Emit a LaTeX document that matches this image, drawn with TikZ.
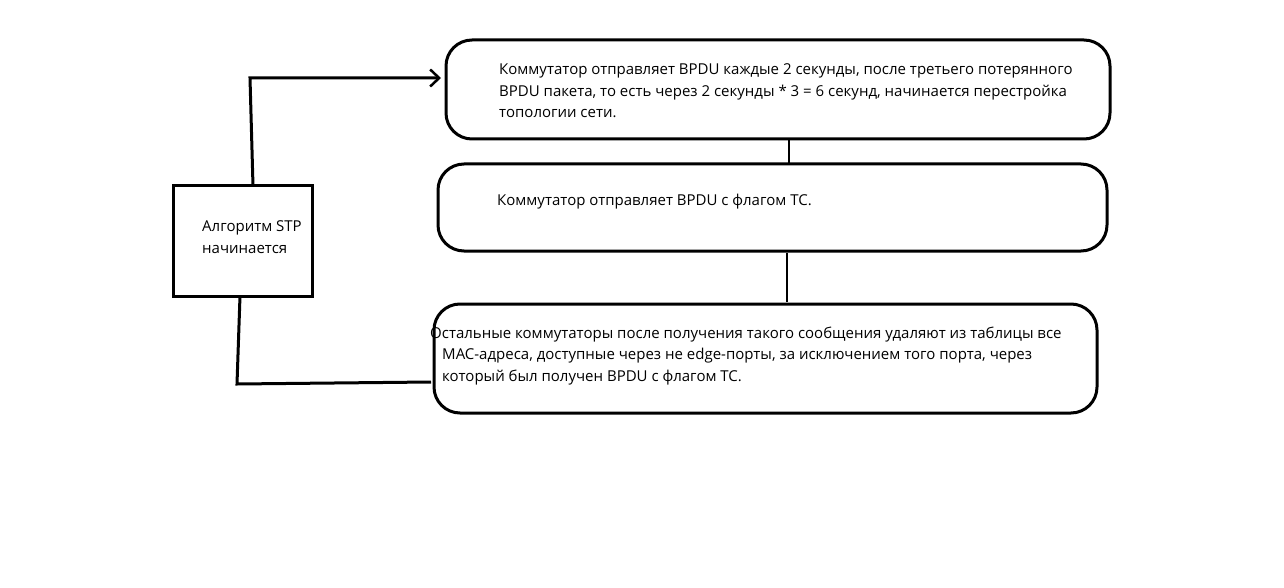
\documentclass[tikz,border=0pt]{standalone}
\usepackage{fontspec}
\setmainfont{Open Sans}
\usetikzlibrary{arrows.meta}
\begin{document}
\begin{tikzpicture}[x=1pt,y=-1pt,
  rbox/.style={draw,line width=3pt,rounded corners=26pt},
  sbox/.style={draw,line width=3pt},
  lbl/.style={anchor=base west,inner sep=0pt,font=\fontsize{15}{21.5}\selectfont,align=left},
  conn/.style={line width=3pt},
  thin conn/.style={line width=2.2pt}]
\useasboundingbox (0,0) rectangle (1284,588);
% boxes
\draw[sbox] (173,186) rectangle (312,296);
\coordinate (aN) at (253,186);
\coordinate (aS) at (240,296);
\draw[rbox] (446,40) rectangle (1110,139);
\coordinate (b1S) at (789,139);
\coordinate (b1W) at (441,78);
\draw[rbox] (438,164) rectangle (1107,251);
\coordinate (b2N) at (789,164);
\coordinate (b2S) at (787,253);
\draw[rbox] (434,304) rectangle (1097,413);
\coordinate (b3N) at (787,302);
\coordinate (b3W) at (431,382);
% texts
\node[lbl] (ta) at (202,253) {Алгоритм STP\\начинается};
\node[lbl] (t1) at (499,118) {Коммутатор отправляет BPDU каждые 2 секунды, после третьего потерянного\\BPDU пакета, то есть через 2 секунды * 3 = 6 секунд, начинается перестройка\\топологии сети.};
\node[lbl] (t2) at (497,205) {Коммутатор отправляет BPDU с флагом TC.};
\node[lbl] (t3) at (430,381) {Остальные коммутаторы после получения такого сообщения удаляют из таблицы все\\\hspace*{12pt}MAC-адреса, доступные через не edge-порты, за исключением того порта, через\\\hspace*{12pt}который был получен BPDU с флагом TC.};
% connectors
\coordinate (c1) at (250,78);
\draw[conn,-{Straight Barb[length=9pt,width=17pt,line width=2.5pt]}] (aN) -- (c1) -- (b1W);
\draw[thin conn] (b1S) -- (b2N);
\draw[thin conn] (b2S) -- (b3N);
\coordinate (c2) at (237,384);
\draw[conn] (aS) -- (c2) -- (b3W);
\end{tikzpicture}
\end{document}
